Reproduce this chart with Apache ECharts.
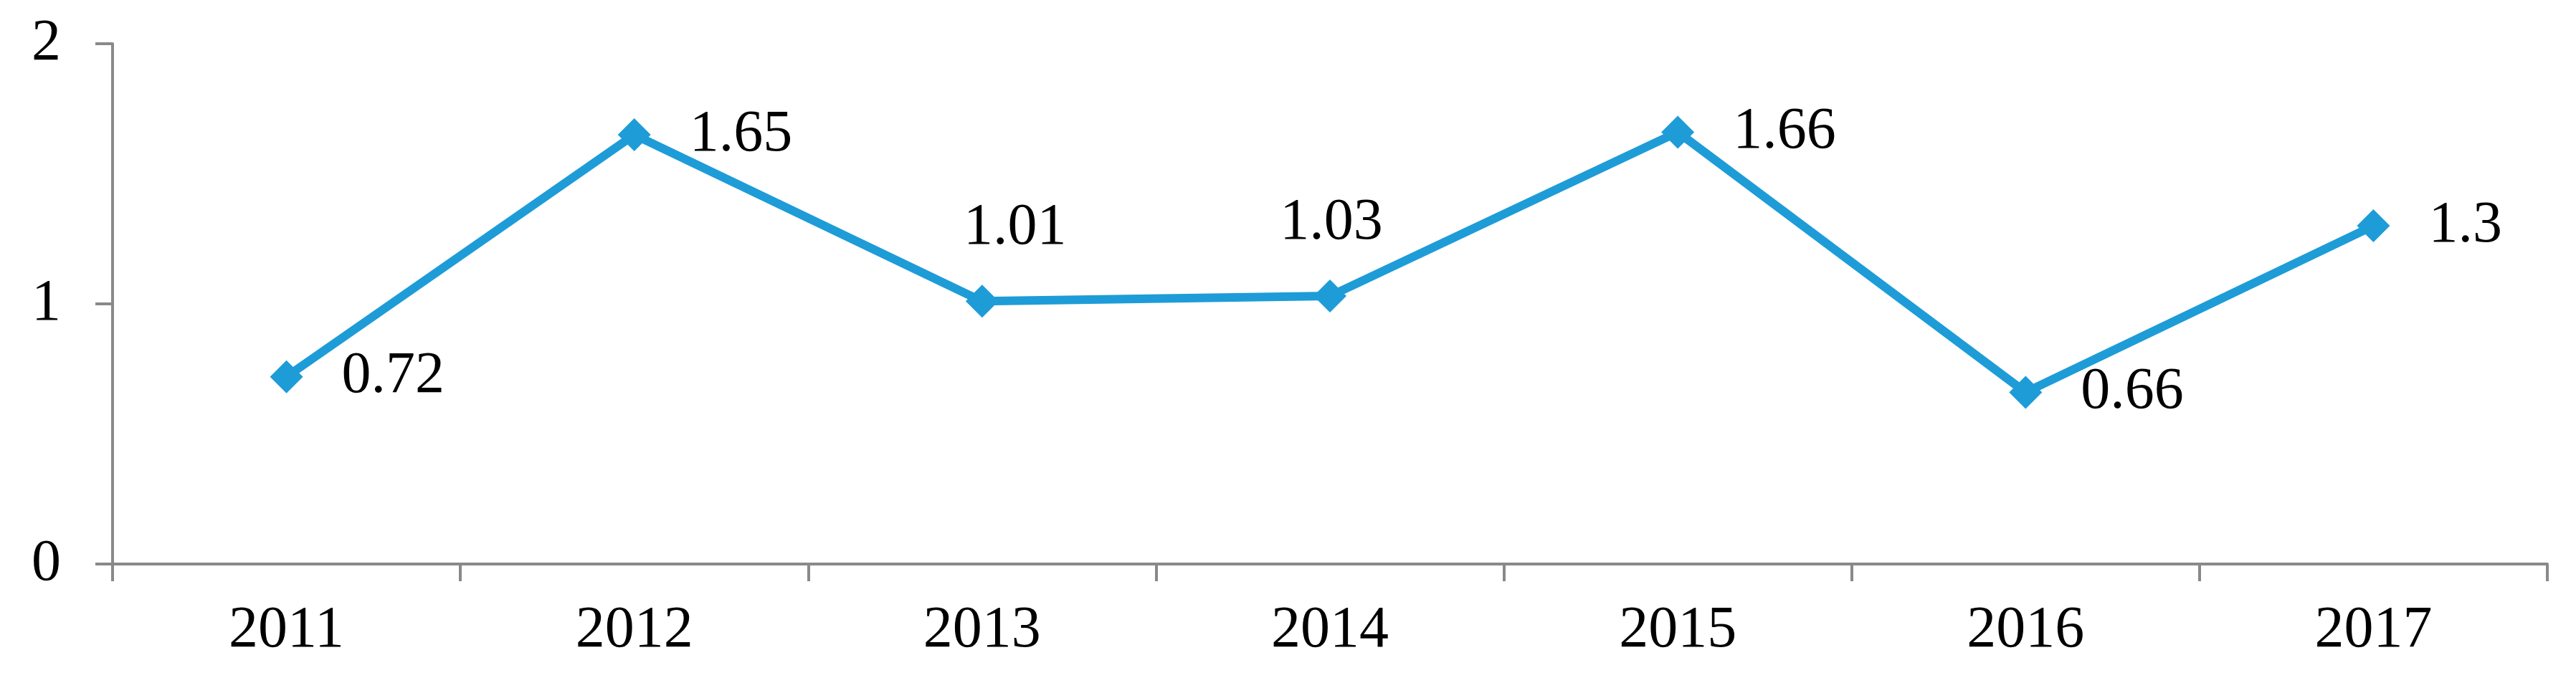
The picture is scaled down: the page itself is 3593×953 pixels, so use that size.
<!DOCTYPE html>
<html>
<head>
<meta charset="utf-8">
<title>line chart</title>
<script src="https://cdn.jsdelivr.net/npm/echarts@6/dist/echarts.min.js"></script>
<style>
  html, body { margin: 0; padding: 0; background: #fff; }
  #main { width: 3593px; height: 953px; }
</style>
</head>
<body>
<div id="main"></div>
<script>
// 数据
const years = ['2011', '2012', '2013', '2014', '2015', '2016', '2017']
const values = [0.72, 1.65, 1.01, 1.03, 1.66, 0.66, 1.3]
const yTicks = [0, 1, 2]

const chart = echarts.init(document.getElementById('main'))
const font = '"Liberation Serif", "Times New Roman", serif'
const axisColor = '#898989'

// 2013、2014 的标签放在点的上方
function buildData(vals) {
  return vals.map((v, i) => {
    if (i === 2 || i === 3) {
      return {
        value: v,
        label: { position: 'top', distance: 38, offset: i === 2 ? [46, 0] : [2, 0] }
      }
    }
    return v
  })
}

const option = {
  animation: false,
  backgroundColor: '#fff',
  grid: { left: 157, right: 40, top: 61, bottom: 166 },
  xAxis: {
    type: 'category',
    data: years,
    boundaryGap: true,
    axisLine: { lineStyle: { color: axisColor, width: 4 } },
    axisTick: { show: true, length: 24, lineStyle: { color: axisColor, width: 4 } },
    axisLabel: { color: '#000', fontFamily: font, fontSize: 82, margin: 52 }
  },
  yAxis: {
    type: 'value',
    min: yTicks[0],
    max: yTicks[yTicks.length - 1],
    interval: 1,
    splitLine: { show: false },
    axisLine: { show: true, lineStyle: { color: axisColor, width: 4 } },
    axisTick: { show: true, length: 24, lineStyle: { color: axisColor, width: 4 } },
    axisLabel: { color: '#000', fontFamily: font, fontSize: 82, margin: 72 }
  },
  series: [{
    type: 'line',
    data: buildData(values),
    symbol: 'diamond',
    symbolSize: 46,
    lineStyle: { color: '#1E9CD7', width: 12 },
    itemStyle: { color: '#1E9CD7' },
    label: {
      show: true,
      position: 'right',
      distance: 54,
      color: '#000',
      fontFamily: font,
      fontSize: 82
    }
  }]
}
chart.setOption(option)
</script>
</body>
</html>
